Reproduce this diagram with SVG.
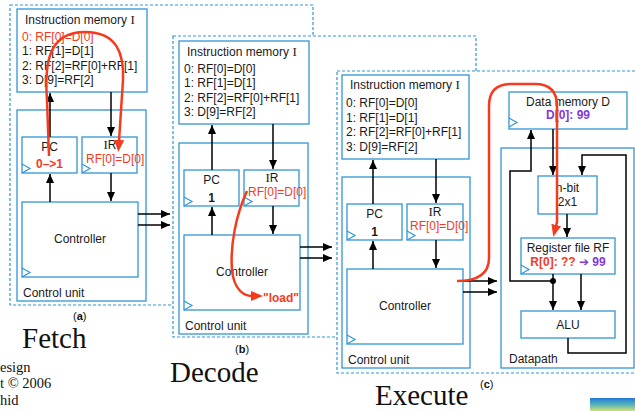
<svg xmlns="http://www.w3.org/2000/svg" width="635" height="411" viewBox="0 0 635 411">
<defs>
<style>
.bx{fill:#fff;stroke:#3196d6;stroke-width:1.3}
.pn{fill:#fff;stroke:#3196d6;stroke-width:1.2;stroke-dasharray:3 2}
.ck{fill:none;stroke:#3196d6;stroke-width:1.2}
.t{font-family:"Liberation Sans",Arial,sans-serif;font-size:12px;fill:#1a1a1a}
.m{text-anchor:middle}
.s{font-family:"Liberation Serif","Times New Roman",serif;font-size:13px}
.r{fill:#f53b1d}
.p{fill:#8438dc}
.b{font-weight:bold}
.w{fill:none;stroke:#000;stroke-width:1.5}
.rw{fill:none;stroke:#f53b1d;stroke-width:2.5}
.big{font-family:"Liberation Serif","Times New Roman",serif;font-size:29px;fill:#111}
.sm{font-family:"Liberation Serif","Times New Roman",serif;font-size:14.5px;fill:#111}
.lb{font-family:"Liberation Sans",Arial,sans-serif;font-size:11px;fill:#111}
.ar{font-family:"DejaVu Sans",sans-serif;font-weight:bold}
</style>
<marker id="ah" markerWidth="9" markerHeight="8" refX="9" refY="4" orient="auto" markerUnits="userSpaceOnUse"><path d="M0,0 L9,4 L0,8 z" fill="#000"/></marker>
<marker id="rh" markerWidth="12" markerHeight="10" refX="1" refY="5" orient="auto" markerUnits="userSpaceOnUse"><path d="M0,0 L12,5 L0,10 z" fill="#f53b1d"/></marker>
<linearGradient id="gr" x1="0" y1="0" x2="0" y2="1"><stop offset="0" stop-color="#1f78d8"/><stop offset="0.55" stop-color="#5cb8b8"/><stop offset="1" stop-color="#d6e070"/></linearGradient>
</defs>
<rect width="635" height="411" fill="#fff"/>

<!-- Panel (a) -->
<rect id="panel-a" class="pn" x="10" y="5" width="303" height="300"/>
<g id="imem-a">
<rect class="bx" x="17" y="9" width="130" height="83"/>
<text class="t" x="25" y="24">Instruction memory <tspan class="s">I</tspan></text>
<text class="t r" x="22" y="41">0: RF[0]=D[0]</text>
<text class="t" x="22" y="55">1: RF[1]=D[1]</text>
<text class="t" x="22" y="70">2: RF[2]=RF[0]+RF[1]</text>
<text class="t" x="22" y="84">3: D[9]=RF[2]</text>
</g>
<g id="cu-a"><rect class="bx" x="17" y="110" width="129" height="191"/><text class="t" x="23" y="297">Control unit</text></g>
<g id="pc-a"><rect class="bx" x="22" y="137" width="55" height="36"/><polyline class="ck" points="22,164 30,168.5 22,173"/><text class="t m" x="49.5" y="151">PC</text><text class="t m r b" x="49.5" y="168">0–&gt;1</text></g>
<g id="ir-a"><rect class="bx" x="82" y="137" width="55" height="36"/><polyline class="ck" points="82,164 90,168.5 82,173"/><text class="t m" x="110" y="149"><tspan class="s">I</tspan>R</text><text class="t r" x="86" y="163">RF[0]=D[0]</text></g>
<g id="ctrl-a"><rect class="bx" x="22" y="202" width="116" height="75"/><polyline class="ck" points="22,268 30,272.5 22,277"/><text class="t m" x="80" y="243">Controller</text></g>
<g id="connectors-a">
<path class="w" d="M50,137 V93" marker-end="url(#ah)"/>
<path class="w" d="M111,92 V136" marker-end="url(#ah)"/>
<path class="w" d="M50,202 V174" marker-end="url(#ah)"/>
<path class="w" d="M111,173 V201" marker-end="url(#ah)"/>
<path class="w" d="M138,214 H170" marker-end="url(#ah)"/>
<path class="w" d="M138,225 H170" marker-end="url(#ah)"/>
<path class="rw" d="M49,156 L47,100 C44,60 50,32 85,32 C118,32 124,55 123,80 L119,141" marker-end="url(#rh)"/>
</g>
<text class="lb" x="73" y="320">(<tspan class="b">a</tspan>)</text>
<text class="big" x="22" y="348">Fetch</text>

<!-- Panel (b) -->
<rect id="panel-b" class="pn" x="173" y="36" width="303" height="301"/>
<g transform="translate(162,33)">
<g id="imem-b">
<rect class="bx" x="17" y="8" width="130" height="83"/>
<text class="t" x="25" y="23">Instruction memory <tspan class="s">I</tspan></text>
<text class="t" x="22" y="40">0: RF[0]=D[0]</text>
<text class="t" x="22" y="54">1: RF[1]=D[1]</text>
<text class="t" x="22" y="69">2: RF[2]=RF[0]+RF[1]</text>
<text class="t" x="22" y="83">3: D[9]=RF[2]</text>
</g>
<g id="cu-b"><rect class="bx" x="17" y="110" width="129" height="191"/><text class="t" x="23" y="297">Control unit</text></g>
<g id="pc-b"><rect class="bx" x="22" y="137" width="55" height="36"/><polyline class="ck" points="22,164 30,168.5 22,173"/><text class="t m" x="49.5" y="151">PC</text><text class="t m b" x="49.5" y="169">1</text></g>
<g id="ir-b"><rect class="bx" x="82" y="137" width="55" height="36"/><polyline class="ck" points="82,164 90,168.5 82,173"/><text class="t m" x="110" y="149"><tspan class="s">I</tspan>R</text><text class="t r" x="86" y="163">RF[0]=D[0]</text></g>
<g id="ctrl-b"><rect class="bx" x="22" y="202" width="116" height="75"/><polyline class="ck" points="22,268 30,272.5 22,277"/><text class="t m" x="80" y="243">Controller</text></g>
<g id="connectors-b">
<path class="w" d="M50,137 V92" marker-end="url(#ah)"/>
<path class="w" d="M111,91 V136" marker-end="url(#ah)"/>
<path class="w" d="M50,202 V174" marker-end="url(#ah)"/>
<path class="w" d="M111,173 V201" marker-end="url(#ah)"/>
<path class="w" d="M138,214 H170" marker-end="url(#ah)"/>
<path class="w" d="M138,225 H170" marker-end="url(#ah)"/>
</g>
</g>
<path class="rw" d="M247,191 C236,215 230,245 232,270 C234,290 244,296 252,296" marker-end="url(#rh)"/>
<text class="t r b" x="263" y="302">"load"</text>
<text class="lb" x="235" y="353">(<tspan class="b">b</tspan>)</text>
<text class="big" x="170" y="382">Decode</text>

<!-- Panel (c) -->
<rect id="panel-c" class="pn" x="337" y="71" width="305" height="302"/>
<g transform="translate(325,67)">
<g id="imem-c">
<rect class="bx" x="17" y="8" width="127" height="84"/>
<text class="t" x="25" y="22">Instruction memory <tspan class="s">I</tspan></text>
<text class="t" x="21" y="40">0: RF[0]=D[0]</text>
<text class="t" x="21" y="55">1: RF[1]=D[1]</text>
<text class="t" x="21" y="69">2: RF[2]=RF[0]+RF[1]</text>
<text class="t" x="21" y="84">3: D[9]=RF[2]</text>
</g>
<g id="cu-c"><rect class="bx" x="17" y="110" width="128" height="191"/><text class="t" x="23" y="297">Control unit</text></g>
<g id="pc-c"><rect class="bx" x="22" y="137" width="55" height="36"/><polyline class="ck" points="22,164 30,168.5 22,173"/><text class="t m" x="49.5" y="151">PC</text><text class="t m b" x="49.5" y="169">1</text></g>
<g id="ir-c"><rect class="bx" x="82" y="137" width="56" height="36"/><polyline class="ck" points="82,164 90,168.5 82,173"/><text class="t m" x="110" y="149"><tspan class="s">I</tspan>R</text><text class="t r" x="85" y="163">RF[0]=D[0]</text></g>
<g id="ctrl-c"><rect class="bx" x="22" y="202" width="116" height="75"/><polyline class="ck" points="22,268 30,272.5 22,277"/><text class="t m" x="80" y="243">Controller</text></g>
<g id="connectors-c">
<path class="w" d="M48,137 V93" marker-end="url(#ah)"/>
<path class="w" d="M111,92 V136" marker-end="url(#ah)"/>
<path class="w" d="M48,202 V174" marker-end="url(#ah)"/>
<path class="w" d="M111,173 V201" marker-end="url(#ah)"/>
<path class="w" d="M138,214 H172" marker-end="url(#ah)"/>
<path class="w" d="M138,225 H172" marker-end="url(#ah)"/>
</g>
</g>

<!-- Datapath -->
<g id="datapath"><rect class="bx" x="501" y="148" width="133" height="220"/><text class="t" x="509" y="363">Datapath</text></g>
<g id="dmem"><rect class="bx" x="509" y="92" width="118" height="37"/><polyline class="ck" points="509,118 517,122.5 509,127"/><text class="t m" x="568" y="106">Data memory D</text><text class="t m p b" x="568" y="119">D[0]: 99</text></g>
<g id="mux"><rect class="bx" x="538" y="176" width="59" height="38"/><text class="t m" x="567.5" y="192">n-bit</text><text class="t m" x="567.5" y="206">2x1</text></g>
<g id="rf"><rect class="bx" x="521" y="238" width="94" height="36"/><polyline class="ck" points="521,265 529,269.5 521,274"/><text class="t m" x="568" y="252">Register file RF</text><text class="t m b" x="568" y="266"><tspan class="r">R[0]: ?? </tspan><tspan class="p ar">➔</tspan><tspan class="p"> 99</tspan></text></g>
<g id="alu"><rect class="bx" x="521" y="311" width="94" height="27"/><text class="t m" x="568" y="329">ALU</text></g>
<g id="connectors-dp">
<path class="w" d="M553,129 V175" marker-end="url(#ah)"/>
<path class="w" d="M553,274 V310" marker-end="url(#ah)"/>
<path class="w" d="M553,281 H510 V171 H531 V130" marker-end="url(#ah)"/>
<circle cx="553" cy="281" r="3" fill="#000"/>
<path class="w" d="M581,274 V310" marker-end="url(#ah)"/>
<path class="w" d="M568,338 V353 H626 V155 H582 V175" marker-end="url(#ah)"/>
<path class="w" d="M567,214 V237" marker-end="url(#ah)"/>
<path class="rw" d="M457,281 C475,281 489,276 489,258 L489,106 Q489,84 511,84 L535,84 Q557,84 557,106 L557,222 L556,226" marker-end="url(#rh)"/>
</g>
<text class="lb" x="480" y="388">(<tspan class="b">c</tspan>)</text>
<text class="big" x="375" y="405">Execute</text>

<text class="sm" x="0" y="372">esign</text>
<text class="sm" x="0" y="388">t © 2006</text>
<text class="sm" x="0" y="405">hid</text>
<rect x="590" y="398" width="45" height="13" fill="url(#gr)"/>
</svg>
